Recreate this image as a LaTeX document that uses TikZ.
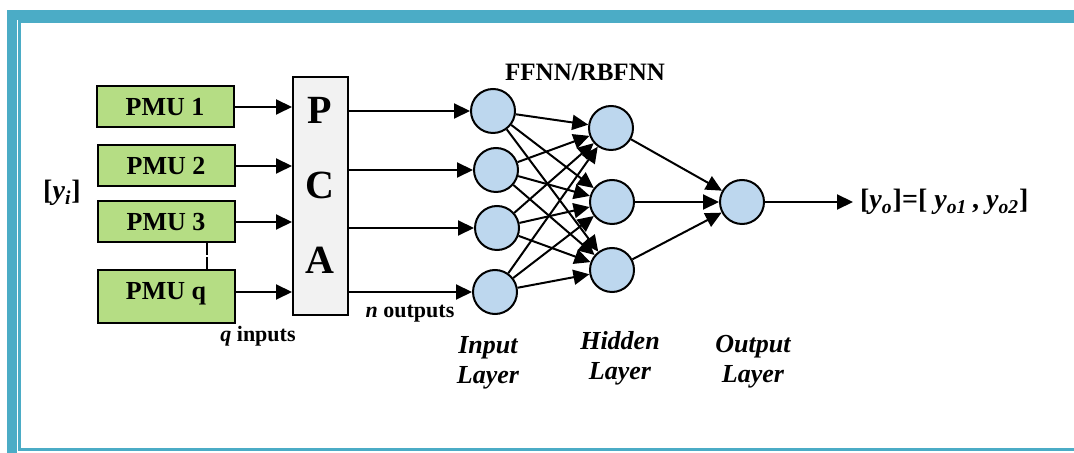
\documentclass[tikz,border=0pt]{standalone}
\usepackage{fontspec}
\setmainfont{Liberation Serif}
\usetikzlibrary{arrows.meta}
\definecolor{framecol}{RGB}{75,172,198}
\definecolor{pmugreen}{RGB}{181,221,132}
\definecolor{neuron}{RGB}{189,215,238}
\definecolor{pcagray}{RGB}{242,242,242}
\begin{document}
\begin{tikzpicture}[x=0.5pt,y=-0.5pt,
  arr/.style={line width=1pt,-{Triangle[length=8pt,width=7.5pt]}},
  pmu/.style={draw,line width=1pt,fill=pmugreen,minimum width=68.5pt,minimum height=20.5pt,inner sep=0pt,font=\fontsize{13}{15}\selectfont\bfseries},
  pcabox/.style={draw,line width=1pt,fill=pcagray,minimum width=27.5pt,minimum height=119pt,inner sep=0pt},
  letter/.style={font=\fontsize{20}{24}\selectfont\bfseries},
  neu/.style={circle,draw,line width=1pt,fill=neuron,minimum size=22pt,inner sep=0pt},
  lbl/.style={font=\fontsize{13}{15}\selectfont\bfseries\itshape,align=center}]
\useasboundingbox (0,0) rectangle (1074,453);
\clip (0,0) rectangle (1074,453);
% frame
\draw[framecol,line width=5pt] (12,470) -- (12,15) -- (1090,15);
\draw[framecol,line width=1.2pt] (1090,21.5) -- (19.5,21.5) -- (19.5,449.5) -- (1090,449.5);
% measurement units
\node [pmu] (pmu1) at (165,107) {PMU 1};
\node [pmu] (pmu2) at (166,166) {PMU 2};
\node [pmu] (pmu3) at (166,222) {PMU 3};
\node [pmu,minimum height=26.5pt,text depth=6pt] (pmuq) at (166,297) {PMU q};
\draw[line width=1pt,dash pattern=on 6pt off 1pt] ([xshift=20.5pt]pmu3.south) -- ([xshift=20.5pt]pmu3.south |- pmuq.north);
\node [font=\fontsize{14}{16}\selectfont\bfseries] (yi) at (62,193) {[\textit{y}\textsubscript{\textit{i}}]};
% PCA block
\node [pcabox] (pca) at (320.5,196) {};
\foreach \l/\y in {P/110,C/185,A/260}
  \node [letter] at (320,\y) {\l};
\draw[arr] (pmu1) -- (pmu1 -| pca.west);
\draw[arr] (pmu2) -- (pmu2 -| pca.west);
\draw[arr] (pmu3) -- (pmu3 -| pca.west);
\draw[arr] (pmuq.east |- 0,292) -- (pca.west |- 0,292);
\node [font=\fontsize{11}{13}\selectfont\bfseries] (qin) at (258,336) {\textit{q} inputs};
\node [font=\fontsize{11}{13}\selectfont\bfseries] (nout) at (410,314) {\textit{n} outputs};
% network
\node [font=\fontsize{12.5}{15}\selectfont\bfseries] (net) at (585,72) {FFNN/RBFNN};
\node [neu] (in1) at (493,111) {};
\node [neu] (in2) at (496,170) {};
\node [neu] (in3) at (497,228) {};
\node [neu] (in4) at (495,292) {};
\node [neu] (hid1) at (611,128) {};
\node [neu] (hid2) at (612,202) {};
\node [neu] (hid3) at (612,270) {};
\node [neu] (out) at (742,202) {};
\foreach \i in {1,...,4}
  \draw[arr] (pca.east |- in\i) -- (in\i);
\foreach \i in {1,...,4}
  \foreach \j in {1,2,3}
    \draw[arr] (in\i) -- (hid\j);
\foreach \j in {1,2,3}
  \draw[arr] (hid\j) -- (out);
\node [font=\fontsize{14}{16}\selectfont\bfseries,anchor=west] (yo) at (853,202) {[\textit{y}\textsubscript{\textit{o}}]=[ \textit{y}\textsubscript{\textit{o1}}\,, \textit{y}\textsubscript{\textit{o2}}]};
\draw[arr] (out) -- (yo);
\node [lbl] (inl) at (488,363) {Input\\Layer};
\node [lbl] (hidl) at (620,358) {Hidden\\Layer};
\node [lbl] (outl) at (753,362) {Output\\Layer};
\end{tikzpicture}
\end{document}
